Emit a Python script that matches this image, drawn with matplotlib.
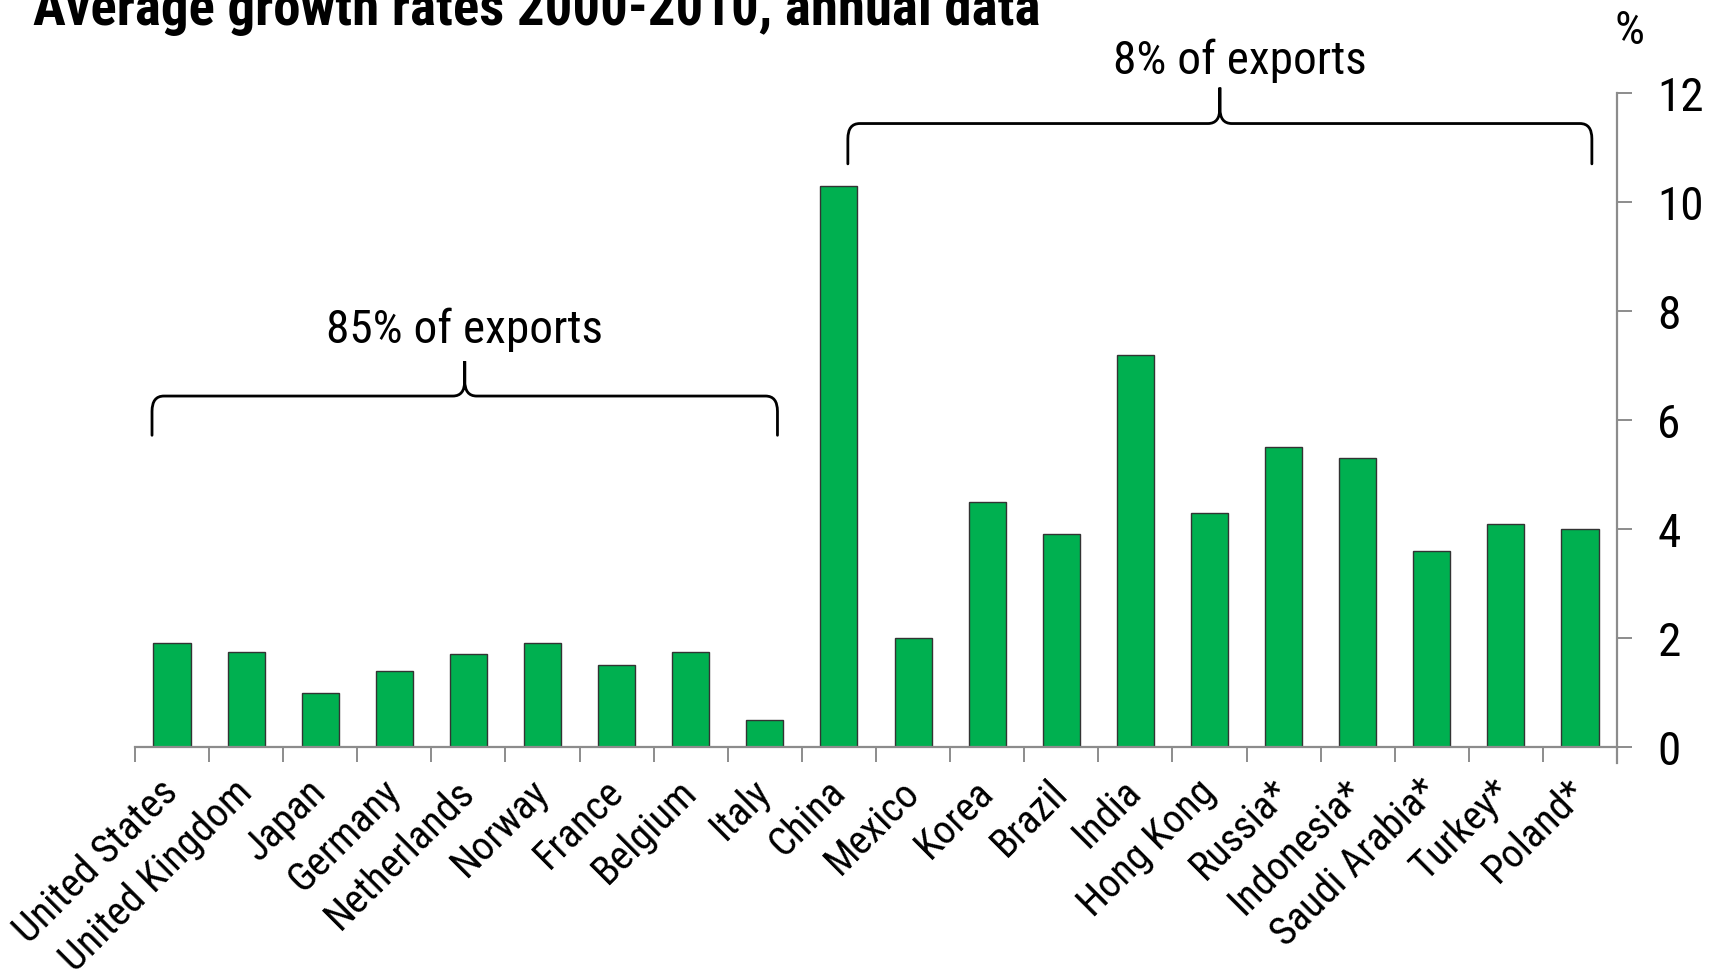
import numpy as np
import matplotlib
matplotlib.use("Agg")
import matplotlib.pyplot as plt
from matplotlib import font_manager
from matplotlib.path import Path
from matplotlib.patches import PathPatch

countries = ["United States", "United Kingdom", "Japan", "Germany", "Netherlands",
             "Norway", "France", "Belgium", "Italy", "China", "Mexico", "Korea",
             "Brazil", "India", "Hong Kong", "Russia*", "Indonesia*", "Saudi Arabia*",
             "Turkey*", "Poland*"]
growth = [1.9, 1.75, 1.0, 1.4, 1.7, 1.9, 1.5, 1.75, 0.5, 10.3, 2.0, 4.5,
          3.9, 7.2, 4.3, 5.5, 5.3, 3.6, 4.1, 4.0]
yticks = [0, 2, 4, 6, 8, 10, 12]
groups = [("85% of exports", 0, 8), ("8% of exports", 9, 19)]

# narrow sans if one is around, plain Liberation otherwise
names = {f.name for f in font_manager.fontManager.ttflist}
FONT = next((n for n in ("Liberation Sans Narrow", "Roboto Condensed", "Archivo Narrow")
             if n in names), "Liberation Sans")
plt.rcParams["font.family"] = [FONT, "DejaVu Sans"]
NARROW = FONT != "Liberation Sans"

GREEN = "#00B050"
GREY = "#8c8c8c"
FS = 34 if NARROW else 29
FS_X = 29 if NARROW else 25


def brace(ax, x0, x1, y, drop, rise, rx=0.16, ry=0.28):
    """Curly bracket opening downwards, tip pointing up at the middle."""
    xm = (x0 + x1) / 2
    verts = [
        (x0, y - drop), (x0, y - ry),
        (x0, y), (x0 + rx, y),
        (xm - rx, y),
        (xm, y), (xm, y + ry),
        (xm, y + rise),
        (xm, y + ry),
        (xm, y), (xm + rx, y),
        (x1 - rx, y),
        (x1, y), (x1, y - ry),
        (x1, y - drop),
    ]
    codes = [Path.MOVETO, Path.LINETO,
             Path.CURVE3, Path.CURVE3,
             Path.LINETO,
             Path.CURVE3, Path.CURVE3,
             Path.LINETO,
             Path.LINETO,
             Path.CURVE3, Path.CURVE3,
             Path.LINETO,
             Path.CURVE3, Path.CURVE3,
             Path.LINETO]
    ax.add_patch(PathPatch(Path(verts, codes), fill=False, lw=2.0,
                           edgecolor="black", clip_on=False, capstyle="round"))


fig = plt.figure(figsize=(17.15, 9.76), dpi=100)
ax = fig.add_axes([0.0787, 0.2346, 0.8642, 0.6701])

x = np.arange(len(countries))
ax.bar(x, growth, width=0.5, color=GREEN, edgecolor="#333333", linewidth=1.0, zorder=2)

ax.set_xlim(-0.5, len(countries) - 0.5)
ax.set_ylim(0, 12)

# right-hand value axis only
ax.yaxis.tick_right()
ax.spines["left"].set_visible(False)
ax.spines["top"].set_visible(False)
for side in ("right", "bottom"):
    ax.spines[side].set_color(GREY)
    ax.spines[side].set_linewidth(1.6)
ax.spines["right"].set_bounds(-0.3, 12)

ax.set_yticks(yticks)
ax.set_yticklabels([str(v) for v in yticks])
ax.tick_params(axis="y", direction="out", length=11, width=1.4, color=GREY,
               labelsize=FS, pad=18, right=True, left=False)

# category boundaries as ticks, names centred between them
ax.set_xticks(np.arange(-0.5, len(countries)), minor=False)
ax.set_xticklabels([])
ax.tick_params(axis="x", which="major", direction="out", length=11, width=1.4, color=GREY)
ax.set_xticks(x, minor=True)
ax.set_xticklabels(countries, minor=True, rotation=45, ha="right", va="center",
                   rotation_mode="anchor", fontsize=FS_X)
ax.tick_params(axis="x", which="minor", length=0, pad=28)

for label, i0, i1 in groups:
    if i0 == 0:
        brace(ax, i0 - 0.27, i1 + 0.17, 6.44, 0.72, 0.64)
        ax.text((i0 - 0.27 + i1 + 0.17) / 2, 7.65, label, ha="center", va="center",
                fontsize=FS)
    else:
        brace(ax, i0 + 0.12, i1 + 0.16, 11.44, 0.74, 0.66)
        ax.text((i0 + 0.12 + i1 + 0.16) / 2 + 0.27, 12.6, label, ha="center", va="center",
                fontsize=FS, clip_on=False)

fig.text(0.9504, 0.968, "%", ha="center", va="center", fontsize=FS)
fig.text(0.019, 0.974, "Average growth rates 2000-2010, annual data", ha="left",
         va="baseline", fontsize=FS + 5.5, fontweight="bold")

fig.savefig("out.png", dpi=100)
